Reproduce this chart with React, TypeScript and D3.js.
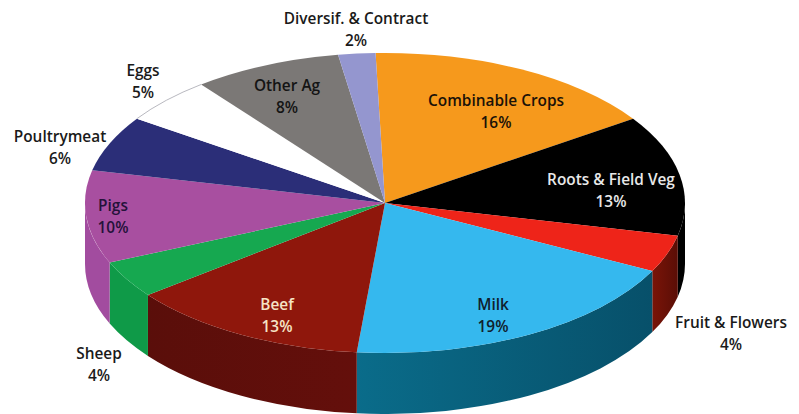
import React from "react";
import * as d3 from "d3";

// Farm output shares, clockwise from twelve o'clock
const categories = [
  "Combinable Crops", "Roots & Field Veg", "Fruit & Flowers", "Milk", "Beef", "Sheep",
  "Pigs", "Poultrymeat", "Eggs", "Other Ag", "Diversif. & Contract",
];
const shares = [16, 13, 4, 19, 13, 4, 10, 6, 5, 8, 2];

const topColors = [
  "#f6991c", "#000000", "#ee2419", "#35b8ee", "#8f170c", "#16a850",
  "#a84fa0", "#2b2e78", "#ffffff", "#7b7876", "#9496cf",
];
const wallLeft = ["#000", "#000", "#7a1408", "#0a6c8a", "#5a0e0a", "#0f9a48", "#a24c9f", "#000", "#000", "#000", "#000"];
const wallRight = ["#000", "#000", "#5a0e06", "#07506a", "#640f0b", "#0f9a48", "#a24c9f", "#000", "#000", "#000", "#000"];
const labelColors = ["#1b1208", "#e8e8e8", "#1a1a1a", "#10202c", "#f6e4c6", "#1a1a1a", "#24123a", "#1a1a1a", "#1a1a1a", "#141414", "#1a1a1a"];

// Label centres for the first of the two lines in each data label
const labelX = [496, 611, 731, 493, 277, 99, 113, 60, 143, 287, 356];
const labelY = [100, 179, 322, 304, 304, 353, 205, 136, 70, 85, 18];

const WIDTH = 799;
const HEIGHT = 414;
const CX = 385;
const CY = 203;
const RX = 300;
const RY = 150;
const DEPTH = 61;
const ROTATION = (-1.8 * Math.PI) / 180;

const slices = d3
  .pie<number>()
  .sort(null)
  .startAngle(ROTATION)
  .endAngle(ROTATION + 2 * Math.PI)(shares);

const sector = d3.arc<d3.PieArcDatum<number>>().innerRadius(0).outerRadius(RX);

const rimX = (a: number) => CX + RX * Math.sin(a);
const rimY = (a: number) => CY - RY * Math.cos(a);

// Side wall of a slice: only the part of the rim on the front half of the ellipse shows
function wallPath(start: number, end: number): string | null {
  const a0 = Math.max(start, Math.PI / 2);
  const a1 = Math.min(end, (3 * Math.PI) / 2);
  if (a1 <= a0) return null;
  return [
    `M${rimX(a0)},${rimY(a0)}`,
    `A${RX},${RY} 0 0 1 ${rimX(a1)},${rimY(a1)}`,
    `L${rimX(a1)},${rimY(a1) + DEPTH}`,
    `A${RX},${RY} 0 0 0 ${rimX(a0)},${rimY(a0) + DEPTH}`,
    "Z",
  ].join(" ");
}

export default function App() {
  const eggs = slices[8];
  return (
    <svg
      width={WIDTH}
      height={HEIGHT}
      viewBox={`0 0 ${WIDTH} ${HEIGHT}`}
      style={{ position: "absolute", left: 0, top: 0, display: "block", background: "#fff" }}
    >
      <defs>
        {slices.map((s, i) => (
          <linearGradient key={i} id={`wall-${i}`} x1="0" x2="1" y1="0" y2="0">
            <stop offset="0" stopColor={wallLeft[i]} />
            <stop offset="1" stopColor={wallRight[i]} />
          </linearGradient>
        ))}
      </defs>

      {slices.map((s, i) => {
        const d = wallPath(s.startAngle, s.endAngle);
        return d ? <path key={i} d={d} fill={`url(#wall-${i})`} /> : null;
      })}

      <g transform={`translate(${CX},${CY}) scale(1,${RY / RX})`}>
        {slices.map((s, i) => (
          <path key={i} d={sector(s) ?? ""} fill={topColors[i]} />
        ))}
      </g>

      {/* The white slice needs a hairline to separate it from the page */}
      <path
        d={`M${rimX(eggs.startAngle)},${rimY(eggs.startAngle)} A${RX},${RY} 0 0 1 ${rimX(eggs.endAngle)},${rimY(eggs.endAngle)}`}
        fill="none"
        stroke="#b9b9c0"
        strokeWidth={1}
      />

      <g fontFamily="'Open Sans', 'Noto Sans', sans-serif" fontWeight={600} fontSize={15.4} textAnchor="middle">
        {categories.map((name, i) => (
          <text key={name} fill={labelColors[i]}>
            <tspan x={labelX[i]} y={labelY[i] + 6}>{name}</tspan>
            <tspan x={labelX[i]} y={labelY[i] + 28}>{shares[i]}%</tspan>
          </text>
        ))}
      </g>
    </svg>
  );
}
